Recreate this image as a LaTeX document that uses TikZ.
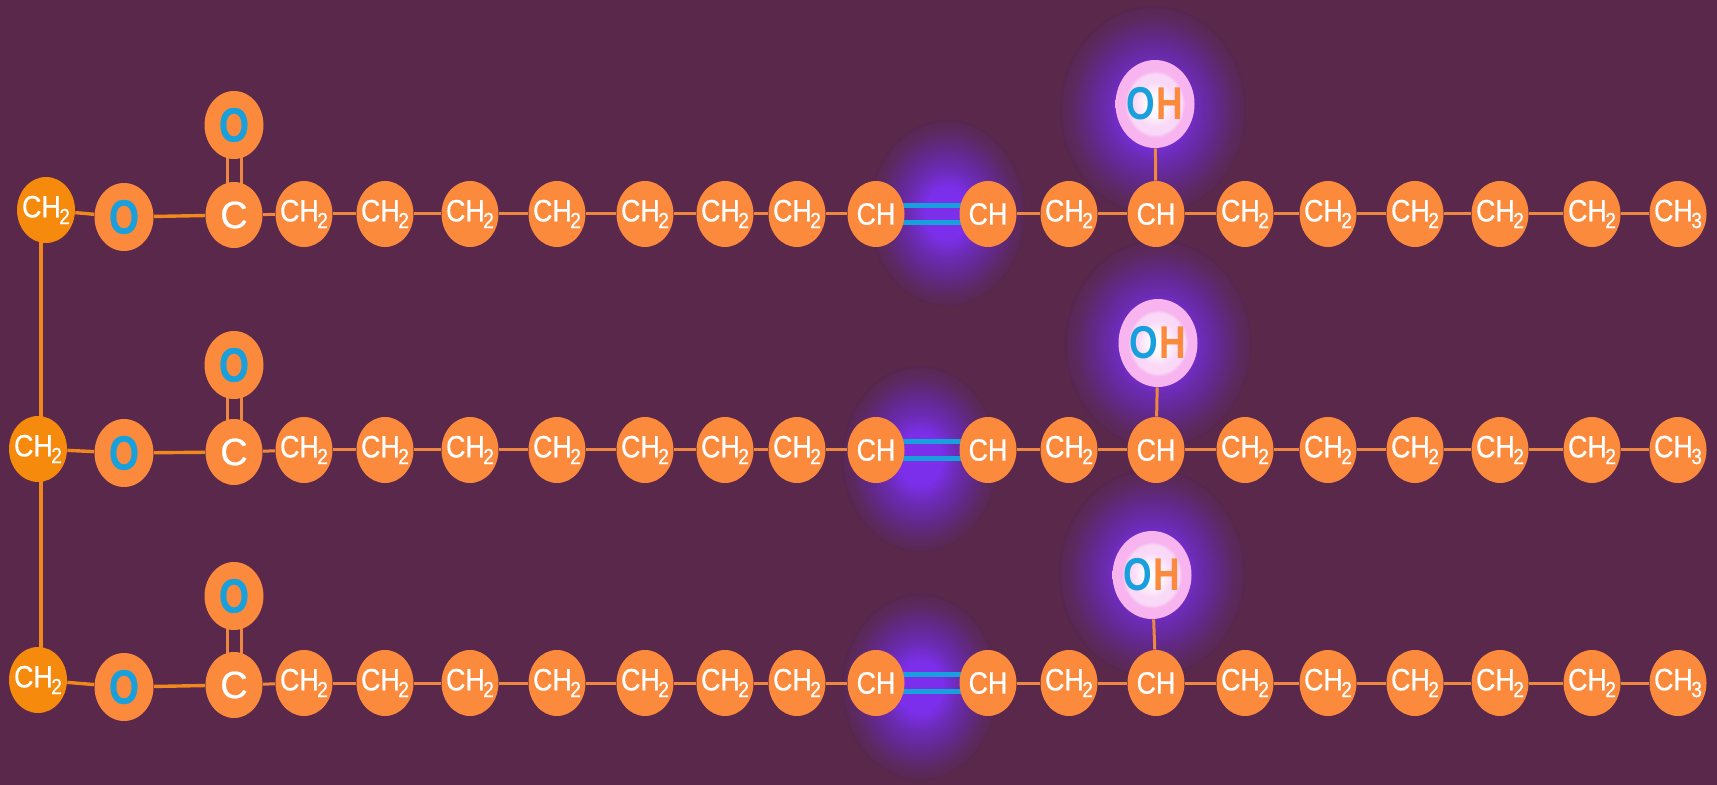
\documentclass[tikz,border=0pt]{standalone}
\usepackage{fontspec}
\setmainfont{Liberation Sans}
\newfontfamily\atomfont[FakeBold=0.6]{Liberation Sans}
\usetikzlibrary{shapes.geometric}
\definecolor{bgc}{HTML}{59284A}
\definecolor{orangec}{HTML}{FB8A3C}
\definecolor{darkorange}{HTML}{F58A0C}
\definecolor{bondc}{HTML}{EE8840}
\definecolor{leftbond}{HTML}{F0881E}
\definecolor{bluec}{HTML}{18A0DC}
\definecolor{pinkc}{HTML}{F7B4EE}
\definecolor{palec}{HTML}{FAD8F7}
\definecolor{gv1}{HTML}{7B2FEA}
\definecolor{gv2}{HTML}{6C2BB4}
\definecolor{gv3}{HTML}{62298C}
\definecolor{gv4}{HTML}{5C2960}
\definecolor{gv5}{HTML}{542650}
\pgfdeclarelayer{bg}
\pgfsetlayers{bg,main}
\pgfdeclareradialshading{glow}{\pgfpointorigin}{%
  color(0bp)=(gv1);color(7bp)=(gv1);color(12bp)=(gv2);color(17bp)=(gv3);
  color(22bp)=(gv4);color(24.2bp)=(bgc!50!gv4);color(25bp)=(gv5);color(50bp)=(gv5)}
\pgfdeclareradialshading{pinkglow}{\pgfpointorigin}{%
  color(0bp)=(white);color(7bp)=(white!70!palec);color(13bp)=(palec);color(17bp)=(palec);color(19bp)=(pinkc);color(50bp)=(pinkc)}
\newcommand\subn[1]{\kern-0.06em\raisebox{-0.42ex}{\fontsize{10}{10}\selectfont #1}}
\newcommand\tall[1]{\scalebox{.96}[1.1]{#1}}
\newcommand\chtwo{\tall{CH\subn{2}}}
\newcommand\chthree{\tall{CH\subn{3}}}
\newcommand\chone{\tall{CH}}
\newcommand\oxy{\scalebox{.8}[1]{\fontsize{24}{24}\selectfont\bfseries\textcolor{bluec}{O}}}
\newcommand\hyd{\scalebox{.8}[1]{\fontsize{23}{23}\selectfont\bfseries
  \textcolor{bluec}{O}\kern1pt\textcolor{orangec}{H}}}
\tikzset{
  x=0.5pt,y=-0.5pt,
  atom/.style={ellipse,inner sep=0pt,fill=orangec,minimum width=28.5pt,minimum height=33pt,
    text=white,font=\atomfont\fontsize{14}{14}\selectfont},
  oxatom/.style={atom,minimum width=29.5pt,minimum height=34pt},
  endatom/.style={atom,fill=darkorange,minimum width=29pt,minimum height=33pt},
  hydatom/.style={ellipse,inner sep=0pt,minimum width=39.5pt,minimum height=44pt,shading=pinkglow},
  halo/.style={shading=glow},
  bond/.style={draw=bondc,line width=1.5pt},
  leftbondl/.style={draw=leftbond,line width=1.7pt},
  dbond/.style={draw=bluec,line width=2.6pt},
  cobond/.style={draw=bondc,line width=1.5pt},
}
\begin{document}
\begin{tikzpicture}
\useasboundingbox (0,0) rectangle (1717,785);
\begin{pgfonlayer}{bg}
  \fill[bgc] (0,0) rectangle (1717,785);
  \foreach \gx/\gy in {947/213,920/459,920/687}
    \shade[halo] (\gx,\gy) ellipse [x radius=78,y radius=93];
  \foreach \gx/\gy in {1153/110,1158/344,1152/573}
    \shade[halo] (\gx,\gy) ellipse [x radius=93,y radius=104];
\end{pgfonlayer}
% rows
\foreach \r/\rowy/\ey/\ex/\oy/\cy/\uy/\hx/\hy in
  {1/214/210/46/217/215/125/1155/104,
   2/450/449/38/453/452/365/1158/343,
   3/683/680/38/687/685/596/1152/575}{
  \node[endatom] (e\r) at (\ex,\ey) {\makebox[0pt]{\chtwo}};
  \node[oxatom] (o\r) at (124,\oy) {\oxy};
  \node[atom] (c\r) at (234,\cy) {\makebox[0pt]{\fontsize{19}{19}\selectfont C}};
  \node[oxatom] (u\r) at (234,\uy) {\oxy};
  \foreach \nx/\lab [count=\i] in {304/\chtwo,385/\chtwo,470/\chtwo,557/\chtwo,645/\chtwo,725/\chtwo,797/\chtwo,
     876/\chone,988/\chone,1069/\chtwo,1156/\chone,1245/\chtwo,1328/\chtwo,1415/\chtwo,1500/\chtwo,1592/\chtwo,1678/\chthree}{
    \node[atom] (n\r-\i) at (\nx,\rowy) {\makebox[0pt]{\lab}};
  }
  \node[hydatom] (h\r) at (\hx,\hy) {\makebox[0pt]{\hyd}};
  \begin{pgfonlayer}{bg}
    \draw[leftbondl] (e\r) -- (o\r);
    \draw[leftbondl] (o\r) -- (c\r);
    \draw[bond] (c\r) -- (n\r-1);
    \draw[cobond] ([xshift=-3.5pt]u\r.center) -- ([xshift=-3.5pt]c\r.center);
    \draw[cobond] ([xshift=3.5pt]u\r.center) -- ([xshift=3.5pt]c\r.center);
    \foreach \i/\j in {1/2,2/3,3/4,4/5,5/6,6/7,7/8,9/10,10/11,11/12,12/13,13/14,14/15,15/16,16/17}
      \draw[bond] (n\r-\i) -- (n\r-\j);
    \draw[dbond] ([yshift=4.2pt]n\r-8.center) -- ([yshift=4.2pt]n\r-9.center);
    \draw[dbond] ([yshift=-4.2pt]n\r-8.center) -- ([yshift=-4.2pt]n\r-9.center);
    \draw[bond] (h\r) -- (n\r-11);
  \end{pgfonlayer}
}
\begin{pgfonlayer}{bg}
  \draw[leftbondl] (e1.center) ++(-5,0) coordinate (t1) (t1) -- (t1 |- e2.center);
  \draw[leftbondl] (e2.center) ++(3,0) coordinate (t2) (t2) -- (t2 |- e3.center);
\end{pgfonlayer}
\end{tikzpicture}
\end{document}
